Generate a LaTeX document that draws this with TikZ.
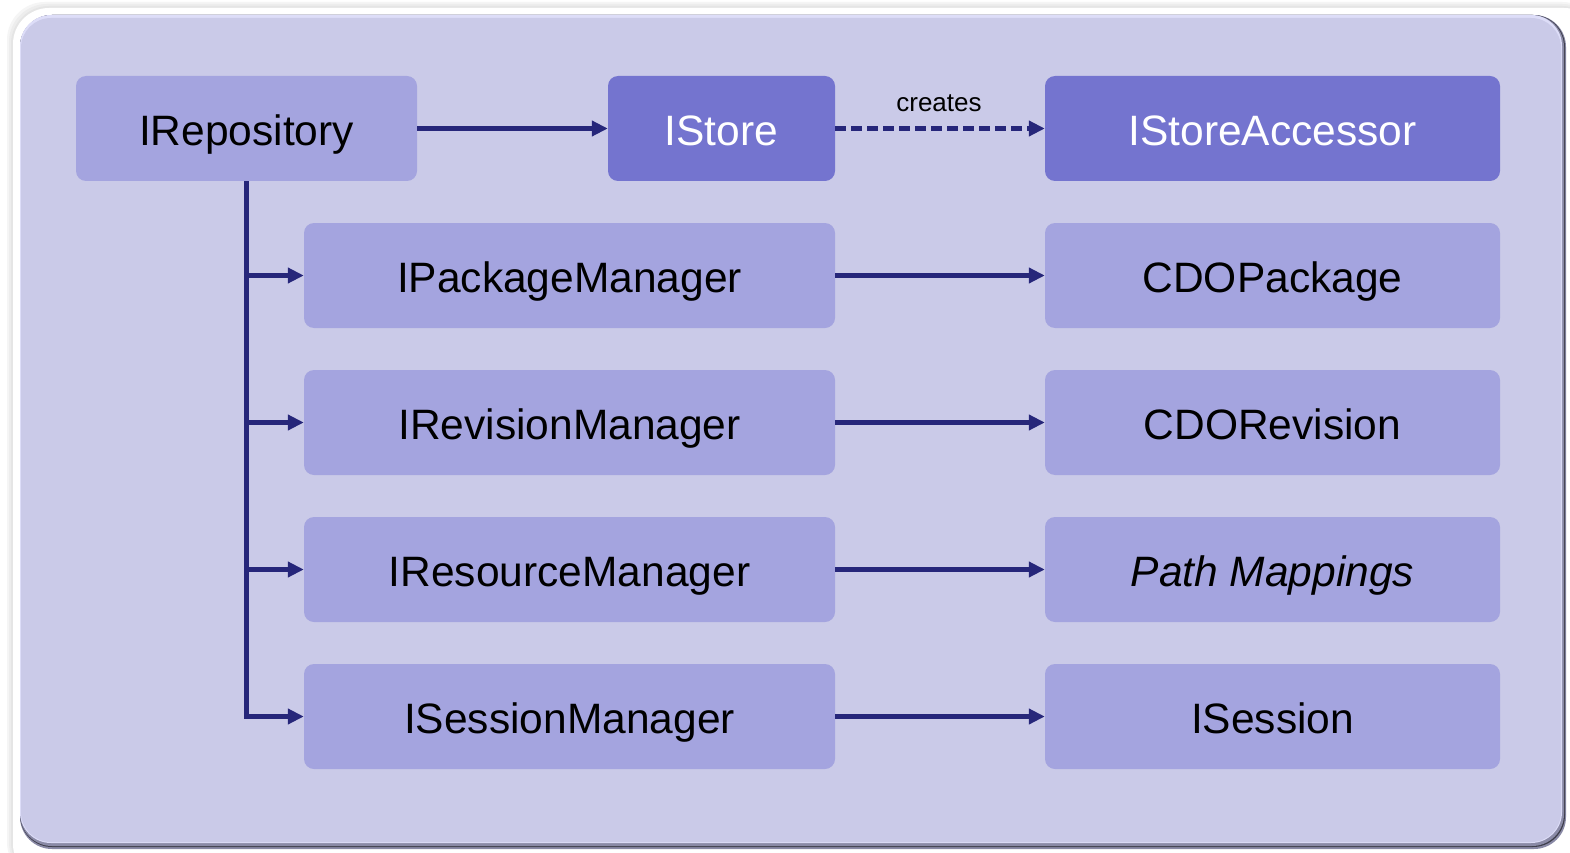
\documentclass[tikz,border=0pt]{standalone}
\usepackage{fontspec}
\setmainfont{Liberation Sans}
\usetikzlibrary{arrows.meta}
\definecolor{panel}{HTML}{CACAE8}
\definecolor{panelhi}{HTML}{DDDDF8}
\definecolor{boxlight}{HTML}{A4A4DF}
\definecolor{boxdark}{HTML}{7474CF}
\definecolor{navy}{HTML}{26267A}
\definecolor{rimshade}{HTML}{8A8AA6}
\tikzset{
  boxbase/.style={draw=none,rounded corners=10pt,font=\fontsize{42.5}{48}\selectfont,text height=34pt,text depth=0pt,minimum height=105pt},
  lightbox/.style={boxbase,fill=boxlight,text=black},
  darkbox/.style={boxbase,fill=boxdark,text=white},
  conn/.style={draw=navy,line width=4.2pt,-{Triangle[length=16pt,width=15pt]}},
}
\begin{document}
\begin{tikzpicture}[x=1pt,y=-1pt]
\useasboundingbox (0,0) rectangle (1570,853);
\fill[white] (0,0) rectangle (1570,853);
% outer soft shadow and white rim
\foreach \o/\c in {6/black!4,4/black!7,2/black!10}{
  \fill[\c,rounded corners=38pt] (13-\o,8-\o) rectangle (1600,880);
}
\fill[white,rounded corners=36pt] (13,8) rectangle (1600,880);
% panel
\fill[rimshade,rounded corners=32pt] (20,15) rectangle (1566,849);
\fill[black!55!rimshade,rounded corners=32pt] (20,15) rectangle (1565,847);
\fill[rimshade,rounded corners=32pt] (20,15) rectangle (1564,846);
\fill[panelhi,rounded corners=31pt] (20,15) rectangle (1562,843);
\fill[panel,rounded corners=30pt] (21,18) rectangle (1561,842);

\node[lightbox,minimum width=341pt] (repo) at (246.5,128.5) {IRepository};
\node[darkbox,minimum width=227pt] (store) at (721.5,128.5) {IStore};
\node[darkbox,minimum width=455pt] (acc) at (1272.5,128.5) {IStoreAccessor};

\node[lightbox,minimum width=531pt] (pm) at (569.5,275.5) {IPackageManager};
\node[lightbox,minimum width=531pt] (rm) at (569.5,422.5) {IRevisionManager};
\node[lightbox,minimum width=531pt] (resm) at (569.5,569.5) {IResourceManager};
\node[lightbox,minimum width=531pt] (sm) at (569.5,716.5) {ISessionManager};

\node[lightbox,minimum width=455pt] (pkg) at (1272.5,275.5) {CDOPackage};
\node[lightbox,minimum width=455pt] (rev) at (1272.5,422.5) {CDORevision};
\node[lightbox,minimum width=455pt] (pmap) at (1272.5,569.5) {\itshape Path Mappings};
\node[lightbox,minimum width=455pt] (ses) at (1272.5,716.5) {ISession};

\draw[conn] (repo.east) -- (store.west);
\draw[conn,dash pattern=on 11pt off 5pt] (store.east) -- (acc.west);
\node[anchor=base,font=\fontsize{26}{30}\selectfont,text=black] (lbl) at (939,112) {creates};

\draw[draw=navy,line width=4.2pt] (repo.south) -- ([yshift=2.1pt]repo.south |- sm.west);
\foreach \t in {pm,rm,resm,sm}{
  \draw[conn] ([xshift=-2.1pt]repo.south |- \t.west) -- (\t.west);
}
\draw[conn] (pm.east) -- (pkg.west);
\draw[conn] (rm.east) -- (rev.west);
\draw[conn] (resm.east) -- (pmap.west);
\draw[conn] (sm.east) -- (ses.west);
\end{tikzpicture}
\end{document}
